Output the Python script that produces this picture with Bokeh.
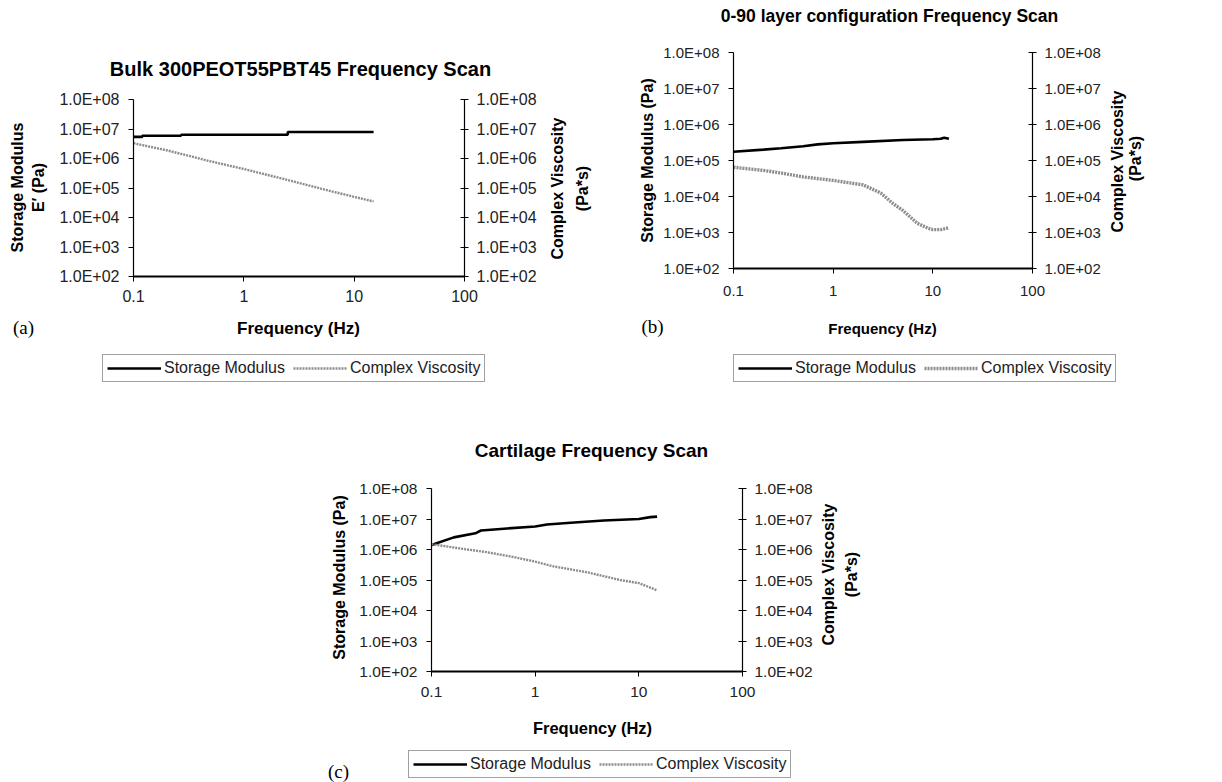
import math
from bokeh.plotting import figure
from bokeh.models import (Range1d, LogAxis, LogScale, FixedTicker, CustomJSTickFormatter,
                          Label, Legend, LegendItem)
from bokeh.embed import file_html
from bokeh.resources import INLINE

# ---------------- data ----------------
x_ticks = [0.1, 1, 10, 100]
y_ticks = [1e2, 1e3, 1e4, 1e5, 1e6, 1e7, 1e8]
x_lim = (0.1, 100.0)
y_lim = (1e2, 1e8)

# (a) Bulk 300PEOT55PBT45
freq_a_sm = [0.1, 0.12, 0.12, 0.27, 0.27, 2.5, 2.5, 15.0]
sm_a = [5.4e6, 5.4e6, 5.9e6, 5.9e6, 6.4e6, 6.4e6, 7.9e6, 7.9e6]
freq_a_cv = [0.1, 0.2, 0.5, 1.0, 2.0, 5.0, 10.0, 15.0]
cv_a = [3.3e6, 1.9e6, 8.0e5, 4.4e5, 2.3e5, 9.5e4, 5.0e4, 3.5e4]

# (b) 0-90 layer configuration
freq_b_sm = [0.1, 0.2, 0.3, 0.5, 0.7, 1.0, 2.0, 5.0, 10.0, 12.0, 13.0, 14.5]
sm_b = [1.75e5, 2.0e5, 2.2e5, 2.5e5, 2.8e5, 3.0e5, 3.3e5, 3.7e5, 3.9e5, 4.0e5, 4.3e5, 4.0e5]
freq_b_cv = [0.1, 0.2, 0.3, 0.5, 1.0, 2.0, 3.0, 4.0, 5.0, 7.0, 9.0, 10.0, 12.0, 14.5]
cv_b = [6.5e4, 5.3e4, 4.5e4, 3.5e4, 2.8e4, 2.1e4, 1.25e4, 6.3e3, 4.1e3, 1.8e3, 1.3e3, 1.2e3, 1.2e3, 1.35e3]

# (c) Cartilage
freq_c_sm = [0.1, 0.164, 0.265, 0.3, 0.5, 1.0, 1.3, 2.2, 4.6, 10.0, 12.9, 15.0]
sm_c = [1.4e6, 2.5e6, 3.4e6, 4.2e6, 4.8e6, 5.7e6, 6.6e6, 7.5e6, 8.9e6, 1.0e7, 1.15e7, 1.2e7]
freq_c_cv = [0.1, 0.2, 0.34, 0.58, 1.0, 1.5, 3.15, 6.6, 10.0, 15.0]
cv_c = [1.5e6, 1.05e6, 8.2e5, 5.9e5, 4.0e5, 2.8e5, 1.8e5, 1.0e5, 7.9e4, 4.6e4]

series_names = ["Storage Modulus", "Complex Viscosity"]

# ---------------- page / style ----------------
W, H = 1222, 782
SANS = "Liberation Sans"
SERIF = "Liberation Serif"

YFMT = """
const e = Math.round(Math.log10(tick));
const s = e < 0 ? "-" : "+";
const a = Math.abs(e);
return "1.0E" + s + (a < 10 ? "0" : "") + a;
"""
XFMT = "return tick < 1 ? tick.toFixed(1) : tick.toFixed(0);"

p = figure(width=W, height=H, x_range=Range1d(0, W), y_range=Range1d(0, H),
           x_axis_location=None, y_axis_location=None, min_border=0,
           toolbar_location=None, output_backend="svg")
p.outline_line_color = None
p.background_fill_color = "white"
p.border_fill_color = "white"
p.grid.visible = False


def log_range(lo, hi, px_lo, px_hi, total):
    """Range whose log scale puts lo at px_lo and hi at px_hi on a frame of size total."""
    a, b = math.log10(lo), math.log10(hi)
    per_px = (b - a) / (px_hi - px_lo)
    start = a - px_lo * per_px
    return Range1d(10 ** start, 10 ** (start + total * per_px))


def style_axis(ax, tick_size, t_in, t_out, standoff, lw):
    ax.major_tick_in = t_in
    ax.major_tick_out = t_out
    ax.minor_tick_line_color = None
    ax.axis_line_width = lw
    ax.major_tick_line_width = 1
    ax.major_label_standoff = standoff
    ax.major_label_text_font = SANS
    ax.major_label_text_font_size = tick_size
    ax.major_label_text_color = "#222222"


def text(px, py, s, size, bold=True, angle=0.0, font=SANS):
    p.add_layout(Label(x=px, y=H - py, x_units="screen", y_units="screen",
                       text=s, text_font=font, text_font_size=size,
                       text_font_style="bold" if bold else "normal",
                       text_align="center", text_baseline="middle",
                       angle=angle, text_color="black"))


def panel(key, box, tick_size, x_std, series, cv_width, legend_box):
    left, top, right, bottom = box
    xr, yr = "x" + key, "y" + key
    p.extra_x_ranges[xr] = log_range(x_lim[0], x_lim[1], left, right, W)
    p.extra_y_ranges[yr] = log_range(y_lim[0], y_lim[1], H - bottom, H - top, H)
    p.extra_x_scales[xr] = LogScale()
    p.extra_y_scales[yr] = LogScale()

    xa = LogAxis(x_range_name=xr, y_range_name=yr, fixed_location=y_lim[0], bounds=x_lim,
                 ticker=FixedTicker(ticks=x_ticks, minor_ticks=[]),
                 formatter=CustomJSTickFormatter(code=XFMT))
    style_axis(xa, tick_size, 0, 5, x_std, 2)
    p.add_layout(xa, "below")

    la = LogAxis(x_range_name=xr, y_range_name=yr, fixed_location=x_lim[0], bounds=y_lim,
                 ticker=FixedTicker(ticks=y_ticks, minor_ticks=[]),
                 formatter=CustomJSTickFormatter(code=YFMT))
    style_axis(la, tick_size, 0, 5, 9, 1.2)
    p.add_layout(la, "left")

    rax = LogAxis(x_range_name=xr, y_range_name=yr, fixed_location=x_lim[1], bounds=y_lim,
                  ticker=FixedTicker(ticks=y_ticks, minor_ticks=[]),
                  formatter=CustomJSTickFormatter(code=YFMT))
    style_axis(rax, tick_size, 4, 4, 8, 1.2)
    p.add_layout(rax, "right")

    fx1, y1, fx2, y2 = series
    r1 = p.line(fx1, y1, x_range_name=xr, y_range_name=yr,
                line_color="black", line_width=2.6)
    r2 = p.line(fx2, y2, x_range_name=xr, y_range_name=yr,
                line_color="#8c8c8c", line_width=cv_width, line_dash="2 1")

    bl, bb = legend_box
    leg = Legend(items=[LegendItem(label=series_names[0], renderers=[r1]),
                        LegendItem(label=series_names[1], renderers=[r2])],
                 orientation="horizontal", location=(bl, H - bb),
                 glyph_width=54, glyph_height=16, label_height=16,
                 label_standoff=3, spacing=8, padding=4, margin=0,
                 label_text_font=SANS, label_text_font_size="16px",
                 label_text_color="#222222",
                 border_line_color="#444444", border_line_width=1,
                 background_fill_color="white", background_fill_alpha=1.0)
    p.add_layout(leg)


UP = math.pi / 2

# ---------------- panel (a) ----------------
panel("a", (133, 99, 464, 276), "16px", 8,
      (freq_a_sm, sm_a, freq_a_cv, cv_a), 2.4, (102, 382))
text(300, 68, "Bulk 300PEOT55PBT45 Frequency Scan", "20px")
text(298, 328, "Frequency (Hz)", "17px")
text(17, 187, "Storage Modulus", "16px", angle=UP)
text(38, 187, "E\u2032 (Pa)", "16px", angle=UP)
text(557, 188, "Complex Viscosity", "16px", angle=UP)
text(582, 188, "(Pa*s)", "16px", angle=UP)
text(23, 327, "(a)", "19px", bold=False, font=SERIF)

# ---------------- panel (b) ----------------
panel("b", (733, 52, 1032, 268), "15px", 12,
      (freq_b_sm, sm_b, freq_b_cv, cv_b), 3.4, (733, 382))
text(889, 15, "0-90 layer configuration Frequency Scan", "17.5px")
text(882, 328, "Frequency (Hz)", "15px")
text(647, 160, "Storage Modulus (Pa)", "16px", angle=UP)
text(1117, 161, "Complex Viscosity", "16px", angle=UP)
text(1135, 158, "(Pa*s)", "16px", angle=UP)
text(652, 326, "(b)", "19px", bold=False, font=SERIF)

# ---------------- panel (c) ----------------
panel("c", (431, 488, 742, 671), "15.5px", 10,
      (freq_c_sm, sm_c, freq_c_cv, cv_c), 2.4, (408, 778))
text(591, 450, "Cartilage Frequency Scan", "19px")
text(592, 727, "Frequency (Hz)", "16.5px")
text(339, 577, "Storage Modulus (Pa)", "16px", angle=UP)
text(828, 574, "Complex Viscosity", "16px", angle=UP)
text(851, 574, "(Pa*s)", "16px", angle=UP)
text(338, 771, "(c)", "19px", bold=False, font=SERIF)

open("out.html", "w").write(file_html(p, INLINE))
